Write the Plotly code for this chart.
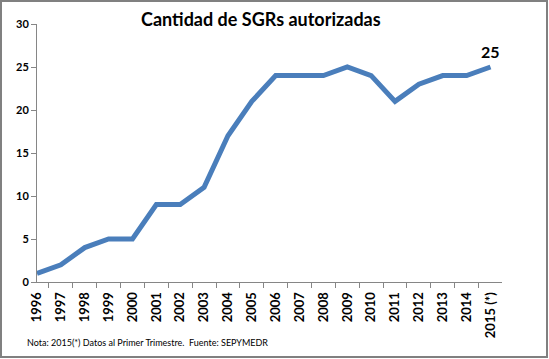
import plotly.graph_objects as go

years = ["1996", "1997", "1998", "1999", "2000", "2001", "2002", "2003", "2004", "2005",
         "2006", "2007", "2008", "2009", "2010", "2011", "2012", "2013", "2014", "2015 (*)"]
sgrs = [1, 2, 4, 5, 5, 9, 9, 11, 17, 21, 24, 24, 24, 25, 24, 21, 23, 24, 24, 25]
title_text = "Cantidad de SGRs autorizadas"
note_text = "Nota: 2015(*) Datos al Primer Trimestre.  Fuente: SEPYMEDR"

W, H = 549, 359
L, R, T, B = 37, 47, 24, 77
pw, ph = W - L - R, H - T - B

def px_x(x):
    return (x - L) / pw

def px_y(y):
    return (H - B - y) / ph

fig = go.Figure()
fig.add_trace(go.Scatter(x=years, y=sgrs, mode="lines",
                         line=dict(color="#4a7ebb", width=5), hoverinfo="x+y"))

fig.add_annotation(x=years[-1], y=sgrs[-1], text="<b>" + str(sgrs[-1]) + "</b>",
                   showarrow=False, yshift=16, font=dict(size=16, color="#000"))
fig.add_annotation(xref="paper", yref="paper", x=px_x(261), y=px_y(19), text="<b>" + title_text + "</b>",
                   showarrow=False, font=dict(size=18, color="#000"), xanchor="center", yanchor="middle")
fig.add_annotation(xref="paper", yref="paper", x=px_x(25), y=px_y(342), text=note_text,
                   showarrow=False, font=dict(size=9, color="#000"), xanchor="left", yanchor="middle")

fig.add_shape(type="rect", xref="paper", yref="paper",
              x0=px_x(1), x1=px_x(547), y0=px_y(357), y1=px_y(1),
              line=dict(color="#808080", width=2))

fig.update_layout(
    width=W, height=H, margin=dict(l=L, r=R, t=T, b=B, autoexpand=False),
    paper_bgcolor="white", plot_bgcolor="white", showlegend=False,
    font=dict(family="Lato, Open Sans, sans-serif", color="#000"),
)
fig.update_xaxes(type="category", tickangle=-90, tickson="boundaries", ticks="outside",
                 ticklen=5, tickcolor="#868686", showline=True, linecolor="#868686", linewidth=1,
                 showgrid=False, automargin=False, ticklabelstandoff=4,
                 tickfont=dict(size=13, color="#000", family="Lato"),
                 tickprefix="<b>", ticksuffix="</b>")
fig.update_yaxes(range=[0, 30], dtick=5, ticks="outside", ticklen=5, tickcolor="#868686",
                 showline=True, linecolor="#868686", linewidth=1, showgrid=False, zeroline=False,
                 automargin=False, tickfont=dict(size=11, color="#000", family="Lato"),
                 tickprefix="<b>", ticksuffix="</b>")

fig.write_html("out.html", config={"displayModeBar": False},
               post_script="document.body.style.margin='0';")
